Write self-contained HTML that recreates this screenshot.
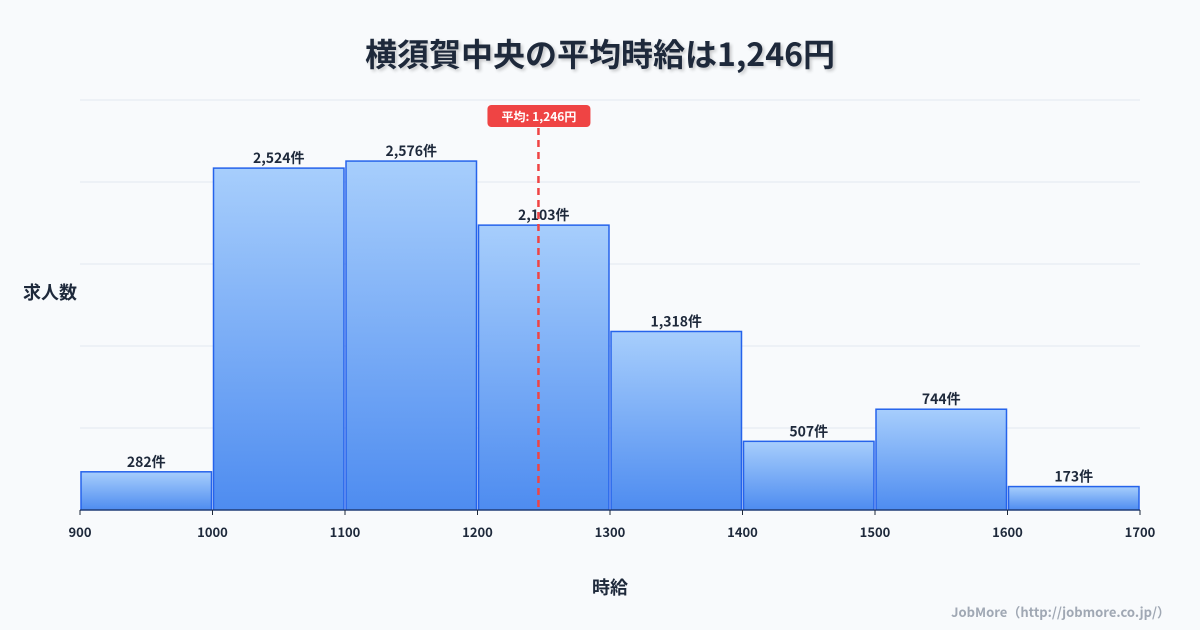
<!DOCTYPE html>
<html><head><meta charset="utf-8">
<style>
body{margin:0;background:#f8fafc;font-family:"Noto Sans CJK JP","Liberation Sans",sans-serif;}
#wrap{position:relative;width:1200px;height:630px;overflow:hidden;background:#f8fafc;}
svg text{font-family:"Noto Sans CJK JP","Liberation Sans",sans-serif;}
</style></head>
<body>
<div id="wrap">
<svg id="chart" width="1200" height="630">
<defs>
<linearGradient id="g" x1="0" y1="0" x2="0" y2="1">
<stop offset="0" stop-color="#a7cefc"/><stop offset="1" stop-color="#4e8cf0"/>
</linearGradient>
</defs>
<text x="600" y="66" text-anchor="middle" font-size="32" font-weight="bold" fill="#1e293b" style="text-shadow:2px 2px 3px rgba(0,0,0,0.2)">横須賀中央の平均時給は1,246円</text>
<g id="grid"></g>
<g id="bars"></g>
<g id="xticks"></g>
<text x="50" y="299" text-anchor="middle" font-size="18" font-weight="bold" fill="#1e293b">求人数</text>
<text x="610" y="594" text-anchor="middle" font-size="18" font-weight="bold" fill="#1e293b">時給</text>
<text x="1170" y="617" text-anchor="end" font-size="13" font-weight="bold" fill="#a0a8b4">JobMore（http://jobmore.co.jp/）</text>
<g id="avg"></g>
</svg>
</div>
<script>
const binStarts=[900,1000,1100,1200,1300,1400,1500,1600];
const counts=[282,2524,2576,2103,1318,507,744,173];
const countLabels=["282件","2,524件","2,576件","2,103件","1,318件","507件","744件","173件"];
const xTickLabels=[900,1000,1100,1200,1300,1400,1500,1600,1700];
const average=1246;
const averageLabel="平均: 1,246円";
const binWidth=100;

const NS="http://www.w3.org/2000/svg";
const L=80,R=1140,T=100,B=510;
const xMin=900,xMax=1700;
const yMax=Math.max(...counts)*1.175;
const x=v=>L+(v-xMin)/(xMax-xMin)*(R-L);
const y=v=>B-v/yMax*(B-T);
function mk(tag,attrs,parent,text){const e=document.createElementNS(NS,tag);for(const k in attrs)e.setAttribute(k,attrs[k]);if(text!=null)e.textContent=text;parent.appendChild(e);return e;}

const grid=document.getElementById('grid');
for(let i=0;i<=5;i++){
  const gy=T+i*(B-T)/5;
  const l=mk('line',{x1:L,x2:R,y1:gy,y2:gy,stroke:'#e2e8f0','stroke-width':1},grid);
  
  
}
const bars=document.getElementById('bars');
binStarts.forEach((s,i)=>{
  const x0=x(s)+1,x1=x(s+binWidth)-1,yt=y(counts[i]);
  const r=mk('rect',{x:x0,y:yt,width:x1-x0,height:B-yt,fill:'url(#g)',stroke:'#2563eb','stroke-width':1.5},bars);
  
  
  const t=mk('text',{x:(x0+x1)/2,y:yt-5,'text-anchor':'middle','font-size':14,'font-weight':'bold',fill:'#1e293b'},bars,countLabels[i]);
  
  
});
const xt=document.getElementById('xticks');
mk('line',{x1:L,x2:R,y1:B,y2:B,stroke:'#1e293b','stroke-width':1},xt);
xTickLabels.forEach(v=>{
  mk('line',{x1:x(v),x2:x(v),y1:B,y2:B+5,stroke:'#1e293b'},xt);
  const t=mk('text',{x:x(v),y:B+27,'text-anchor':'middle','font-size':13,'font-weight':'bold',fill:'#1e293b'},xt,String(v));
  
  
});
const avg=document.getElementById('avg');
const ax=x(average);
const al=mk('line',{x1:ax,x2:ax,y1:128,y2:B,stroke:'#ef4444','stroke-width':2.5,'stroke-dasharray':'7,5'},avg);


const ab=mk('rect',{x:ax-51,y:105,width:103,height:22,rx:4,fill:'#ef4444'},avg);


const at=mk('text',{x:ax+0.5,y:121,'text-anchor':'middle','font-size':12,'font-weight':'bold',fill:'#fff'},avg,averageLabel);


</script>
</body></html>
